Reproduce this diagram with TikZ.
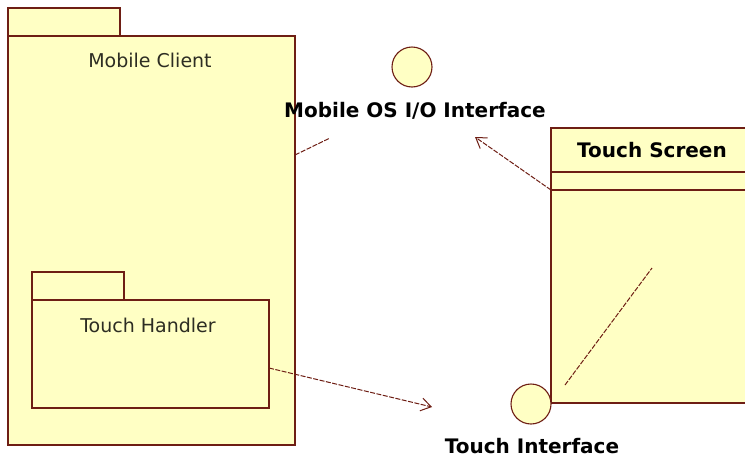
\documentclass[tikz,border=0pt]{standalone}
\usepackage{fontspec}
\setmainfont{DejaVu Sans}
\usetikzlibrary{arrows.meta}

\definecolor{umlfill}{RGB}{255,255,196}
\definecolor{umlline}{RGB}{110,30,20}
\definecolor{umltext}{RGB}{45,45,35}

\tikzset{
  pkg/.style={draw=umlline, fill=umlfill, line width=1.1pt, inner sep=0, outer sep=0},
  iface/.style={circle, draw=umlline, fill=umlfill, line width=1.1pt, minimum size=40pt, inner sep=0, outer sep=0},
  pkgtext/.style={text=umltext, font=\fontsize{19}{22}\selectfont},
  boldtext/.style={text=black, font=\fontsize{20}{23}\selectfont\bfseries},
  dep/.style={draw=umlline, line width=1pt, dash pattern=on 5pt off 1.5pt},
}

\begin{document}
\begin{tikzpicture}[x=1pt, y=-1pt]
\useasboundingbox (0,0) rectangle (745,464);

% mobile client package
\node[pkg, anchor=north west, minimum width=287pt, minimum height=409pt] (client) at (8,36) {};
\node[pkg, anchor=south west, minimum width=112pt, minimum height=28pt] (clienttab) at (client.north west) {};
\node[pkgtext] (clientname) at (150,60) {Mobile Client};

% touch handler package
\node[pkg, anchor=north west, minimum width=237pt, minimum height=108pt] (handler) at (32,300) {};
\node[pkg, anchor=south west, minimum width=92pt, minimum height=28pt] (handlertab) at (handler.north west) {};
\node[pkgtext] (handlername) at (148,325) {Touch Handler};

% touch screen class
\node[pkg, anchor=north west, minimum width=209pt, minimum height=275pt] (screen) at (551,128) {};
\draw[umlline, line width=1.1pt] (551,172)--(760,172);
\draw[umlline, line width=1.1pt] (551,190)--(760,190);
\node[boldtext] (screenname) at (652,150) {Touch Screen};

% interfaces
\node[iface] (osio) at (412,67) {};
\node[boldtext] (osiolabel) at (415,111) {Mobile OS I/O Interface};
\node[iface] (touch) at (531,404) {};
\node[boldtext] (touchlabel) at (532,446) {Touch Interface};

% connectors
\coordinate (clientport) at (295,155);
\coordinate (clientend) at (330,138);
\coordinate (screenport) at (551,190);
\coordinate (osiotip) at (475,137);
\coordinate (handlerport) at (269,368);
\coordinate (touchtip) at (432,407);
\coordinate (innerA) at (565,385);
\coordinate (innerB) at (652,268);

\draw[dep] (clientport)--(clientend);
\draw[dep, -{Straight Barb[length=10pt, width=13pt]}] (screenport)--(osiotip);
\draw[dep, -{Straight Barb[length=10pt, width=13pt]}] (handlerport)--(touchtip);
\draw[dep] (innerA)--(innerB);
\end{tikzpicture}
\end{document}
